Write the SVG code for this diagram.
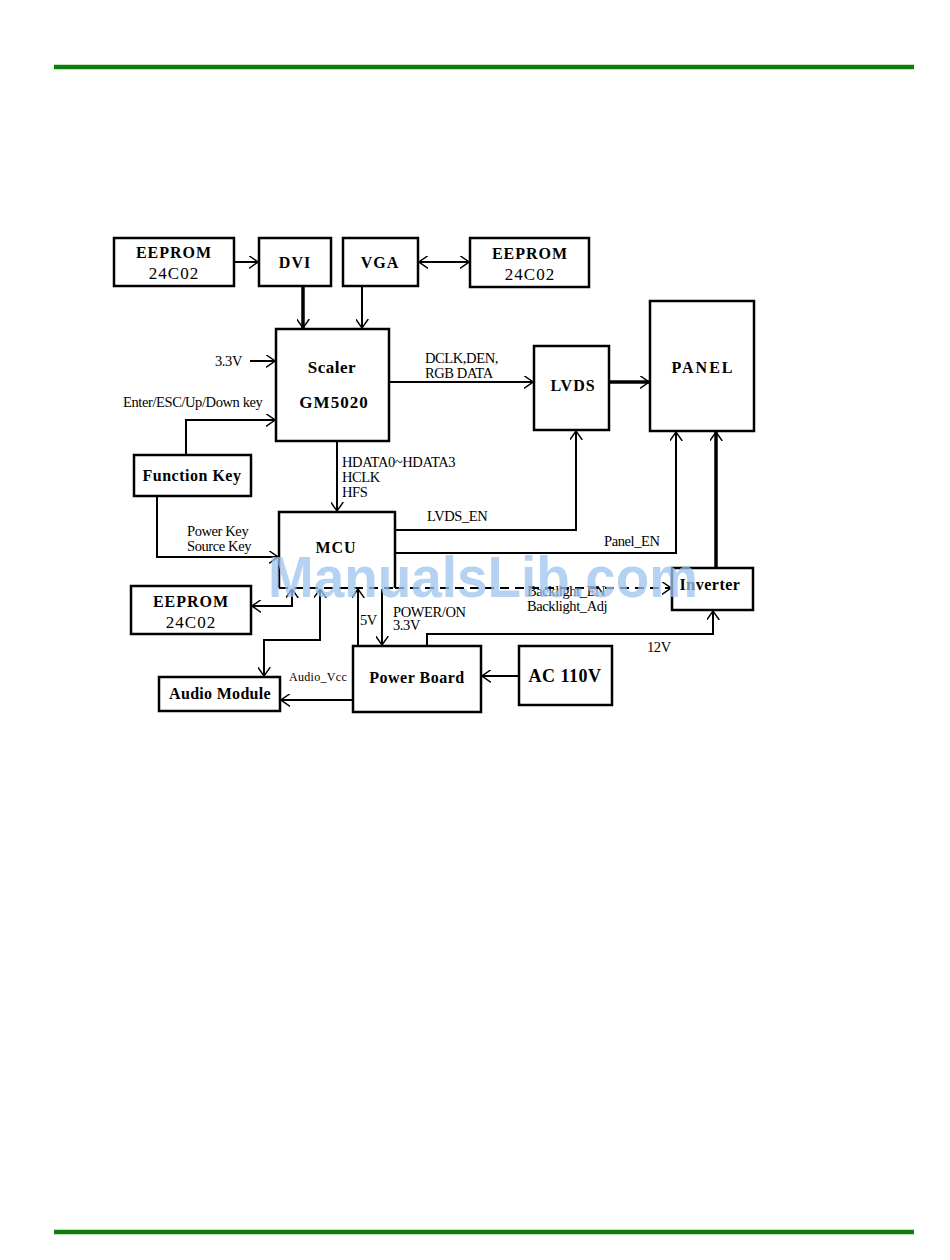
<svg xmlns="http://www.w3.org/2000/svg" width="950" height="1260" viewBox="0 0 950 1260">
<style>
.box{fill:#fff;stroke:#000;stroke-width:2.5}
.lbl{font-family:"Liberation Serif",serif;font-weight:bold;font-size:16px;text-anchor:middle;letter-spacing:1px}
.sm{font-family:"Liberation Serif",serif;font-size:14.5px;letter-spacing:-0.4px}
.ln{fill:none;stroke:#000;stroke-width:2}
.thk{fill:none;stroke:#000;stroke-width:3.5}
.dash{fill:none;stroke:#000;stroke-width:2;stroke-dasharray:9,6}
</style>
<defs>
<marker id="a" viewBox="0 0 10 14" refX="10" refY="7" markerWidth="9" markerHeight="13" markerUnits="userSpaceOnUse" orient="auto-start-reverse">
<path d="M0,0 L10,7 L0,14" fill="none" stroke="#000" stroke-width="1.6"/>
</marker>
</defs>
<rect width="950" height="1260" fill="#fff"/>
<line x1="54" y1="67" x2="914" y2="67" stroke="#0a7d0a" stroke-width="4.5"/>
<line x1="54" y1="1232" x2="914" y2="1232" stroke="#0a7d0a" stroke-width="4.5"/>

<g id="connectors">
<line class="ln" x1="234" y1="262" x2="258" y2="262" marker-end="url(#a)"/>
<line class="thk" x1="303" y1="286" x2="303" y2="328" marker-end="url(#a)"/>
<line class="ln" x1="362" y1="286" x2="362" y2="328" marker-end="url(#a)"/>
<line class="ln" x1="419" y1="262" x2="469" y2="262" marker-start="url(#a)" marker-end="url(#a)"/>
<line class="ln" x1="250" y1="361" x2="275" y2="361" marker-end="url(#a)"/>
<polyline class="ln" points="186,455 186,420 275,420" marker-end="url(#a)"/>
<line class="ln" x1="389" y1="382" x2="533" y2="382" marker-end="url(#a)"/>
<line class="thk" x1="609" y1="382" x2="649" y2="382" marker-end="url(#a)"/>
<line class="ln" x1="337" y1="441" x2="337" y2="511" marker-end="url(#a)"/>
<polyline class="ln" points="157,496 157,557 278,557" marker-end="url(#a)"/>
<polyline class="ln" points="395,530 576,530 576,431" marker-end="url(#a)"/>
<polyline class="ln" points="395,553 676,553 676,432" marker-end="url(#a)"/>
<line class="dash" x1="395" y1="588" x2="671" y2="588" marker-end="url(#a)"/>
<line class="thk" x1="716" y1="568" x2="716" y2="432" marker-end="url(#a)"/>
<polyline class="ln" points="292,589 292,606 252,606" marker-start="url(#a)" marker-end="url(#a)"/>
<polyline class="ln" points="320,589 320,640 264,640 264,676" marker-start="url(#a)" marker-end="url(#a)"/>
<line class="ln" x1="358" y1="646" x2="358" y2="589" marker-end="url(#a)"/>
<line class="ln" x1="382" y1="589" x2="382" y2="645" marker-end="url(#a)"/>
<polyline class="ln" points="427,646 427,634 713,634 713,611" marker-end="url(#a)"/>
<line class="ln" x1="519" y1="676" x2="482" y2="676" marker-end="url(#a)"/>
<line class="ln" x1="353" y1="700" x2="281" y2="700" marker-end="url(#a)"/>
</g>

<g id="labels">
<text class="sm" x="215" y="366">3.3V</text>
<text class="sm" x="123" y="407">Enter/ESC/Up/Down key</text>
<text class="sm" x="425" y="363">DCLK,DEN,</text>
<text class="sm" x="425" y="378">RGB DATA</text>
<text class="sm" x="342" y="467">HDATA0~HDATA3</text>
<text class="sm" x="342" y="482">HCLK</text>
<text class="sm" x="342" y="497">HFS</text>
<text class="sm" x="187" y="536">Power Key</text>
<text class="sm" x="187" y="551">Source Key</text>
<text class="sm" x="427" y="521">LVDS_EN</text>
<text class="sm" x="604" y="546">Panel_EN</text>
<text class="sm" x="527" y="596">Backlight_EN</text>
<text class="sm" x="527" y="611">Backlight_Adj</text>
<text class="sm" x="360" y="625">5V</text>
<text class="sm" x="393" y="617">POWER/ON</text>
<text class="sm" x="393" y="630">3.3V</text>
<text class="sm" x="647" y="652">12V</text>
<text class="sm" x="289" y="681" style="font-size:12px;letter-spacing:0.3px">Audio_Vcc</text>
</g>

<g id="eeprom1"><rect class="box" x="114" y="238" width="120" height="48"/><text class="lbl" x="174" y="258">EEPROM</text><text class="lbl" x="174" y="279" style="font-weight:normal;font-size:17px">24C02</text></g>
<g id="dvi"><rect class="box" x="259" y="238" width="72" height="48"/><text class="lbl" x="295" y="268">DVI</text></g>
<g id="vga"><rect class="box" x="343" y="238" width="75" height="48"/><text class="lbl" x="380" y="268">VGA</text></g>
<g id="eeprom2"><rect class="box" x="470" y="238" width="119" height="49"/><text class="lbl" x="530" y="259">EEPROM</text><text class="lbl" x="530" y="280" style="font-weight:normal;font-size:17px">24C02</text></g>
<g id="scaler"><rect class="box" x="276" y="329" width="113" height="112"/><text class="lbl" x="332" y="373" style="font-size:17px;letter-spacing:0.5px">Scaler</text><text class="lbl" x="334" y="408" style="font-size:17px">GM5020</text></g>
<g id="lvds"><rect class="box" x="534" y="346" width="75" height="84"/><text class="lbl" x="573" y="391">LVDS</text></g>
<g id="panel"><rect class="box" x="650" y="301" width="104" height="130"/><text class="lbl" x="703" y="373" style="letter-spacing:2px">PANEL</text></g>
<g id="functionkey"><rect class="box" x="134" y="455" width="117" height="41"/><text class="lbl" x="192" y="481" style="letter-spacing:0.5px">Function Key</text></g>
<g id="mcu"><path d="M279,588 L279,512 L395,512 L395,588" class="box" fill="#fff"/><line class="dash" x1="279" y1="588" x2="395" y2="588"/><text class="lbl" x="336" y="553">MCU</text></g>
<g id="inverter"><rect class="box" x="672" y="568" width="81" height="42"/><text class="lbl" x="710" y="590" style="letter-spacing:0.5px">Inverter</text></g>
<g id="eeprom3"><rect class="box" x="131" y="586" width="120" height="48"/><text class="lbl" x="191" y="607">EEPROM</text><text class="lbl" x="191" y="628" style="font-weight:normal;font-size:17px">24C02</text></g>
<g id="powerboard"><rect class="box" x="353" y="646" width="128" height="66"/><text class="lbl" x="417" y="683" style="letter-spacing:0.5px">Power Board</text></g>
<g id="ac110v"><rect class="box" x="519" y="646" width="93" height="59"/><text class="lbl" x="565" y="682" style="font-size:18px;letter-spacing:0.5px">AC 110V</text></g>
<g id="audiomodule"><rect class="box" x="159" y="677" width="121" height="34"/><text class="lbl" x="220" y="699" style="letter-spacing:0.3px">Audio Module</text></g>

<text x="268" y="597" textLength="430" lengthAdjust="spacingAndGlyphs" style="font-family:'Liberation Sans',sans-serif;font-weight:bold;font-size:58px;fill:#9ec4f0;opacity:0.75">ManualsLib.com</text>
</svg>
